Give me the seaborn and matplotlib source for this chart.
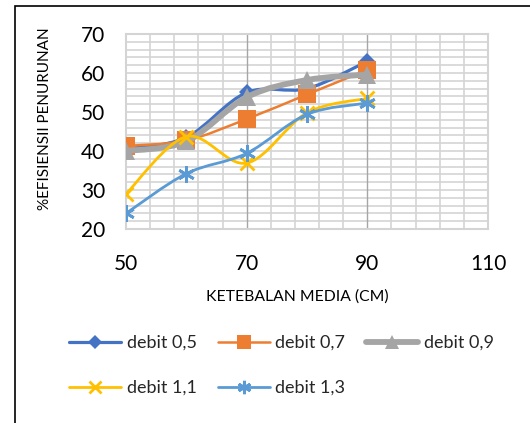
import numpy as np
import matplotlib
matplotlib.use("Agg")
import matplotlib.pyplot as plt
import seaborn as sns
from matplotlib.path import Path
from matplotlib.patches import PathPatch, Rectangle
from matplotlib.lines import Line2D
from matplotlib.ticker import FixedLocator

# Media thickness (cm) and removal efficiency (%) per flow rate
ketebalan = [50, 60, 70, 80, 90]
debit_05 = [40.5, 43.5, 55.0, 56.0, 63.0]
debit_07 = [41.3, 42.7, 48.2, 54.5, 60.8]
debit_09 = [40.0, 42.5, 53.8, 58.2, 59.6]
debit_11 = [29.0, 43.7, 36.9, 49.8, 53.5]
debit_13 = [24.0, 34.2, 39.4, 49.4, 52.3]

series_labels = ["debit 0,5", "debit 0,7", "debit 0,9", "debit 1,1", "debit 1,3"]
x_ticks = [50, 70, 90, 110]
y_ticks = [20, 30, 40, 50, 60, 70]

sns.set_theme(style="white")
plt.rcParams["font.family"] = ["Lato", "DejaVu Sans"]

W, H = 530, 423
fig = plt.figure(figsize=(W / 100, H / 100), dpi=100)
ax = fig.add_axes([126 / W, 1 - 229 / H, 362 / W, 195 / H])

styles = [
    dict(color="#4472C4", marker="D", ms=8.5, lw=2.3, mew=0),
    dict(color="#ED7D31", marker="s", ms=12.5, lw=1.8, mew=0),
    dict(color="#A5A5A5", marker="^", ms=13, lw=4.2, mew=0),
    dict(color="#FFC000", marker="x", ms=10, lw=2.0, mew=2.0),
    dict(color="#5B9BD5", marker=(6, 2, 0), ms=12, lw=2.0, mew=2.0),
]
all_series = [debit_05, debit_07, debit_09, debit_11, debit_13]


def smooth_path(xs, ys):
    pts = np.column_stack([xs, ys]).astype(float)
    n = len(pts)
    verts = [pts[0]]
    codes = [Path.MOVETO]
    for i in range(n - 1):
        p_prev = pts[max(i - 1, 0)]
        p0, p1 = pts[i], pts[i + 1]
        p_next = pts[min(i + 2, n - 1)]
        c1 = p0 + (p1 - p_prev) / 6.0
        c2 = p1 - (p_next - p0) / 6.0
        verts += [c1, c2, p1]
        codes += [Path.CURVE4] * 3
    return Path(verts, codes)


handles = []
for i, (ys, st, lab) in enumerate(zip(all_series, styles, series_labels)):
    z = 3 + i
    patch = PathPatch(smooth_path(ketebalan, ys), facecolor="none",
                      edgecolor=st["color"], lw=st["lw"], zorder=z,
                      capstyle="round", joinstyle="round")
    ax.add_patch(patch)
    sns.lineplot(x=ketebalan, y=ys, ax=ax, color=st["color"], marker=st["marker"],
                 markersize=st["ms"], markeredgewidth=st["mew"],
                 markeredgecolor=st["color"], linestyle="none", zorder=z + 0.5,
                 legend=False)
    handles.append(Line2D([0], [0], color=st["color"], lw=st["lw"], marker=st["marker"],
                          markersize=st["ms"] * 0.8, markeredgewidth=st["mew"],
                          markeredgecolor=st["color"], label=lab))

ax.set_xlim(50, 110)
ax.set_ylim(20, 70)
ax.set_xticks(x_ticks)
ax.set_yticks(y_ticks)
ax.xaxis.set_minor_locator(FixedLocator(np.arange(54, 110, 4)))
ax.yaxis.set_minor_locator(FixedLocator(np.arange(22, 70, 2)))
ax.grid(which="minor", color="#D4D4D4", lw=1.2, ls="-")
ax.grid(which="major", axis="y", color="#D4D4D4", lw=1.2, ls="-")
ax.set_axisbelow(True)
# darker major vertical gridlines, drawn above the light grid
for xv in x_ticks[1:-1]:
    ax.axvline(xv, color="#A6A6A6", lw=1.0, zorder=1)
for sp in ax.spines.values():
    sp.set_color("#D4D4D4")
    sp.set_linewidth(1.5)
ax.tick_params(axis="both", which="both", length=0, labelsize=15, colors="#000000")
ax.tick_params(axis="x", pad=18)
ax.tick_params(axis="y", pad=15)
ax.set_xlabel("")
ax.set_ylabel("")

fig.text(45 / W, 1 - 119 / H, "%EFISIENSII PENURUNAN", rotation=90,
         ha="center", va="center", fontsize=11, color="#000000")
fig.text(297 / W, 1 - 297 / H, "KETEBALAN MEDIA (CM)", ha="center", va="center",
         fontsize=11.3, color="#000000")

order = [0, 3, 1, 4, 2]
fig.legend([handles[k] for k in order], [series_labels[k] for k in order],
           ncol=3, loc="upper left", bbox_to_anchor=(69 / W, 1 - 335 / H),
           frameon=False, fontsize=13, handlelength=2.9, handletextpad=0.3,
           columnspacing=1.15, labelspacing=1.6, borderaxespad=0,
           borderpad=0)

fig.add_artist(Rectangle((15 / W, -0.5), 2, 1.5 - 6 / H, transform=fig.transFigure,
                         facecolor="none", edgecolor="#000000", lw=1.2))

fig.savefig("out.png", dpi=100)
